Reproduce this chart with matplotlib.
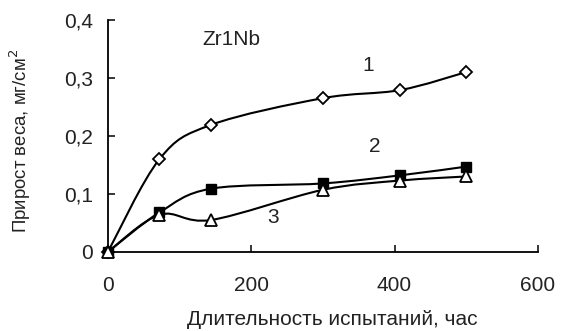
import numpy as np
import matplotlib
matplotlib.use('Agg')
import matplotlib.pyplot as plt
from matplotlib.path import Path
from matplotlib.patches import PathPatch
from matplotlib.ticker import FuncFormatter

plt.rcParams['font.family'] = ['Liberation Sans', 'DejaVu Sans']

# Data
hours = [0, 72, 144, 300, 408, 500]
series1 = [0, 0.160, 0.219, 0.265, 0.279, 0.310]
series2 = [0, 0.068, 0.109, 0.118, 0.132, 0.147]
series3 = [0, 0.064, 0.055, 0.107, 0.123, 0.130]
curve_labels = ['1', '2', '3']


def smooth_path(x, y, t=1 / 6):
    # Excel-like smooth line: cubic Bezier through the points
    x = np.asarray(x, float)
    y = np.asarray(y, float)
    verts = [(x[0], y[0])]
    codes = [Path.MOVETO]
    n = len(x)
    for i in range(n - 1):
        p0 = np.array([x[max(i - 1, 0)], y[max(i - 1, 0)]])
        p1 = np.array([x[i], y[i]])
        p2 = np.array([x[i + 1], y[i + 1]])
        p3 = np.array([x[min(i + 2, n - 1)], y[min(i + 2, n - 1)]])
        c1 = p1 + (p2 - p0) * t
        c2 = p2 - (p3 - p1) * t
        verts += [tuple(c1), tuple(c2), tuple(p2)]
        codes += [Path.CURVE4] * 3
    return Path(verts, codes)


fig = plt.figure(figsize=(5.62, 3.31), dpi=100)
ax = fig.add_axes([0.192, 0.239, 0.765, 0.701])

for ys in (series1, series2, series3):
    ax.add_patch(PathPatch(smooth_path(hours, ys), fill=False, lw=1.5, color='black', zorder=2))

ax.plot(hours, series1, ls='none', marker='D', ms=6, mfc='white', mec='black', mew=1.3, zorder=3, clip_on=False)
ax.plot(hours, series2, ls='none', marker='s', ms=7, mfc='black', mec='black', zorder=3, clip_on=False)
ax.plot(hours, series3, ls='none', marker='^', ms=8.5, mfc='white', mec='black', mew=1.3, zorder=4, clip_on=False)

ax.text(173, 0.366, 'Zr1Nb', fontsize=15, ha='center', va='center', color='#222222')
ax.text(363, 0.322, curve_labels[0], fontsize=15, ha='center', va='center', color='#222222')
ax.text(372, 0.181, curve_labels[1], fontsize=15, ha='center', va='center', color='#222222')
ax.text(230, 0.059, curve_labels[2], fontsize=15, ha='center', va='center', color='#222222')

ax.set_xlim(0, 600)
ax.set_ylim(0, 0.4)
ax.set_xticks([0, 200, 400, 600])
ax.set_yticks([0, 0.1, 0.2, 0.3, 0.4])
ax.yaxis.set_major_formatter(FuncFormatter(lambda v, p: '0' if v == 0 else f'{v:.1f}'.replace('.', ',')))
ax.spines['top'].set_visible(False)
ax.spines['right'].set_visible(False)
ax.spines['left'].set_linewidth(1.3)
ax.spines['bottom'].set_linewidth(1.3)
ax.tick_params(axis='both', direction='in', length=5, width=1.1, labelsize=15, color='black',
               labelcolor='#222222')
ax.tick_params(axis='x', pad=17)
ax.tick_params(axis='y', pad=11)

ax.set_xlabel('Длительность испытаний, час', fontsize=15, color='#222222')
ax.set_ylabel('Прирост веса, мг/см$^2$', fontsize=13.4, color='#222222')
ax.xaxis.set_label_coords(0.521, -0.25)
ax.yaxis.set_label_coords(-0.174, 0.478)
ax.patch.set_alpha(0)

fig.savefig('out.png', dpi=100)
